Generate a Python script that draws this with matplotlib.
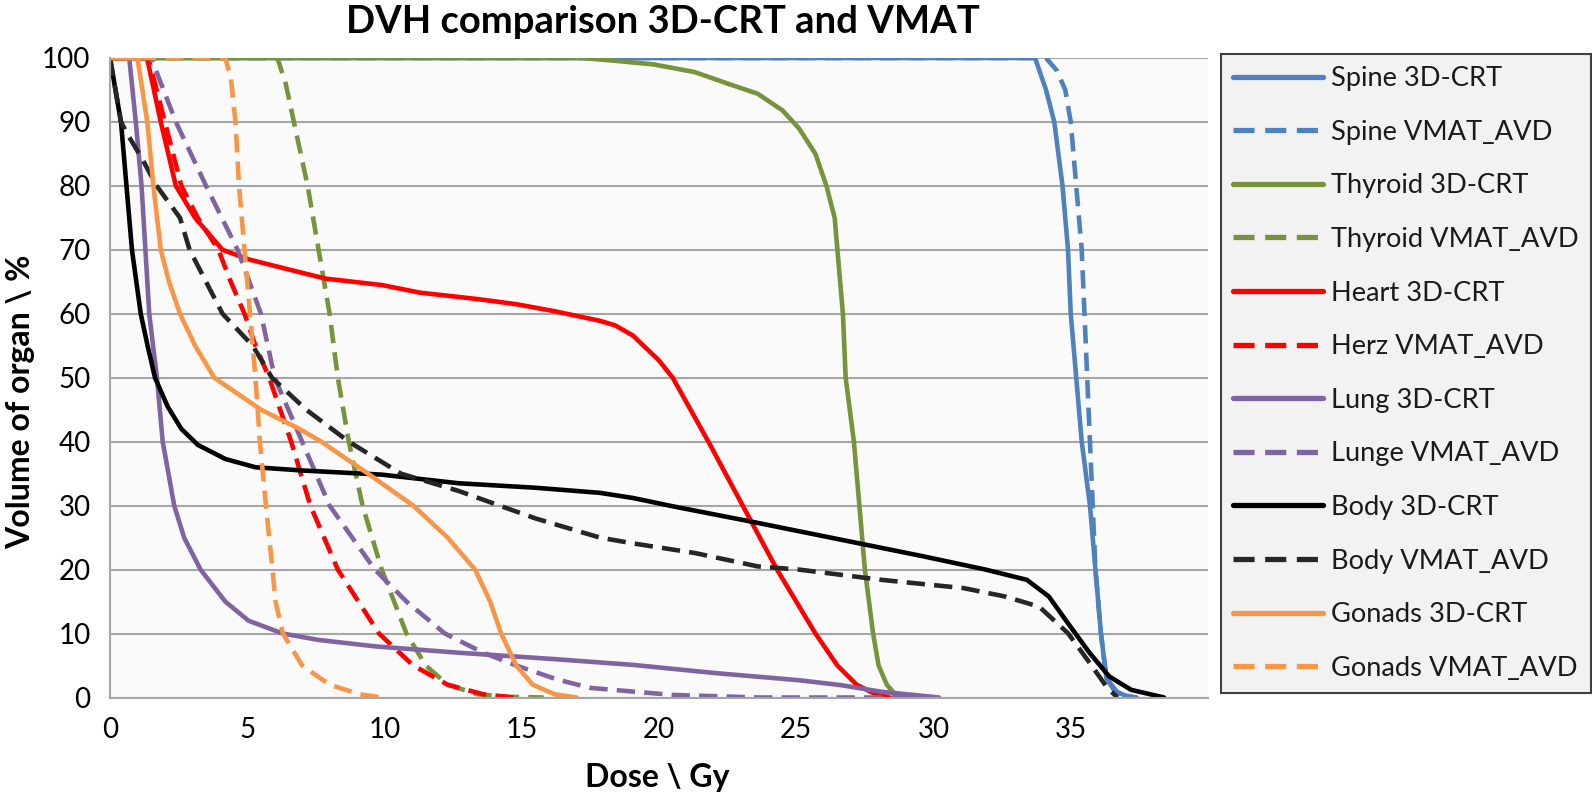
import matplotlib
matplotlib.use("Agg")
import matplotlib.pyplot as plt

plt.rcParams['font.family'] = ['Lato', 'DejaVu Sans']

title = "DVH comparison 3D-CRT and VMAT"
xlabel = "Dose \\ Gy"
ylabel = "Volume of organ \\ %"
xticks = [0, 5, 10, 15, 20, 25, 30, 35]
yticks = [0, 10, 20, 30, 40, 50, 60, 70, 80, 90, 100]

# ---- data (dose in Gy, volume in %) ----
spine_crt_dose = [0, 33.7, 34.1, 34.4, 34.7, 34.9, 35.0, 35.2, 35.4, 35.7, 35.9, 36.1, 36.3, 36.6, 37.0, 37.4]
spine_crt_vol = [100, 100, 95, 90, 80, 70, 60, 50, 40, 30, 20, 10, 3, 1, 0.3, 0]

spine_vmat_dose = [0, 34.1, 34.5, 34.8, 35.0, 35.2, 35.4, 35.5, 35.6, 35.7, 35.8, 35.9, 36.1, 36.3, 36.7, 37.2]
spine_vmat_vol = [100, 100, 98, 95, 90, 80, 70, 60, 50, 40, 30, 20, 10, 3, 0.8, 0]

thyroid_crt_dose = [0, 17.2, 18.3, 19.8, 21.3, 22.5, 23.6, 24.5, 25.1, 25.7, 26.1, 26.4, 26.5, 26.7, 26.8, 27.1, 27.3, 27.5, 27.8, 28.0, 28.3, 28.7]
thyroid_crt_vol = [100, 100, 99.6, 99, 97.8, 96, 94.4, 91.8, 89, 85, 80, 75, 70, 60, 50, 40, 30, 20, 10, 5, 2, 0]

thyroid_vmat_dose = [0, 6.1, 6.4, 6.7, 7.2, 7.6, 8.0, 8.3, 8.7, 9.2, 9.9, 10.8, 11.5, 12.3, 13.4, 14.5, 15.8]
thyroid_vmat_vol = [100, 100, 96, 90, 80, 70, 60, 50, 40, 30, 20, 10, 5, 2, 0.5, 0.1, 0]

heart_crt_dose = [0, 1.35, 1.85, 2.4, 3.1, 4.1, 5.06, 6.45, 7.85, 9.9, 11.3, 13.4, 14.8, 16.2, 17.85, 18.4, 19.05, 20.0, 20.5, 21.8, 23.05, 24.3, 25.7, 26.5, 27.2, 27.8, 28.4]
heart_crt_vol = [100, 100, 90, 80, 75, 70, 68.5, 67, 65.5, 64.5, 63.3, 62.3, 61.5, 60.4, 58.9, 58.2, 56.6, 52.7, 50, 40, 30, 20, 10, 5, 2, 0.7, 0]

heart_vmat_dose = [0, 1.4, 2.0, 2.6, 3.2, 3.95, 4.4, 4.9, 5.3, 5.8, 6.6, 7.3, 8.3, 9.8, 11.05, 12.3, 13.6, 14.7]
heart_vmat_vol = [100, 100, 90, 80, 75, 70, 65, 60, 55, 50, 40, 30, 20, 10, 5, 2, 0.5, 0]

lung_crt_dose = [0, 0.7, 0.94, 1.15, 1.29, 1.43, 1.71, 1.92, 2.34, 2.7, 3.3, 4.2, 5.05, 6.3, 7.6, 9.65, 12.7, 16.2, 19.05, 22.1, 25.1, 26.6, 28.1, 30.2]
lung_crt_vol = [100, 100, 90, 80, 70, 60, 50, 40, 30, 25, 20, 15, 12, 10, 9, 8, 7, 6, 5.1, 3.8, 2.7, 1.95, 0.9, 0]

lung_vmat_dose = [0, 1.5, 2.4, 3.5, 4.65, 5.5, 6.0, 7.0, 8.0, 9.65, 10.8, 12.2, 13.6, 14.8, 16.3, 17.5, 20.5, 23.6, 29.5]
lung_vmat_vol = [100, 100, 90, 80, 70, 60, 50, 40, 30, 20, 15, 10, 7, 5, 2.8, 1.5, 0.4, 0, 0]

body_crt_dose = [0, 0.4, 0.6, 0.8, 1.12, 1.37, 1.64, 2.1, 2.6, 3.2, 4.2, 5.3, 7.0, 9.9, 12.7, 15.5, 17.85, 19.05, 20.5, 23.6, 26.6, 29.6, 31.9, 33.4, 34.2, 34.9, 35.7, 36.4, 37.2, 38.4]
body_crt_vol = [100, 90, 80, 70, 60, 55, 50, 45.5, 42, 39.5, 37.3, 36, 35.5, 34.85, 33.5, 32.8, 32.0, 31.2, 29.9, 27.3, 24.7, 22.1, 20.0, 18.4, 15.8, 11.6, 6.9, 3.3, 1.2, 0]

body_vmat_dose = [0, 0.4, 0.65, 1.2, 1.7, 2.55, 2.9, 4.1, 5.2, 5.9, 7.15, 8.7, 10.6, 12.7, 15.5, 17.85, 19.05, 21.3, 23.6, 25.1, 28.1, 31.1, 32.6, 33.85, 34.9, 35.7, 36.3, 36.7]
body_vmat_vol = [100, 90, 88, 84, 80, 75, 70, 60, 55, 50, 45, 40, 35, 32.3, 28, 25, 24.1, 22.6, 20.5, 20.0, 18.4, 17.1, 15.8, 14.2, 10.05, 5.35, 1.7, 0]

gonads_crt_dose = [0, 1.0, 1.36, 1.58, 1.85, 2.15, 2.55, 3.1, 3.8, 5.5, 6.9, 7.7, 9.4, 11.05, 12.3, 13.3, 13.85, 14.25, 14.8, 15.4, 16.2, 17.0]
gonads_crt_vol = [100, 100, 90, 80, 70, 65, 60, 55, 50, 45, 42, 40, 35, 30, 25, 20, 15, 10, 5, 2, 0.5, 0]

gonads_vmat_dose = [0, 4.2, 4.4, 4.57, 4.7, 4.9, 5.1, 5.3, 5.46, 5.68, 5.92, 6.03, 6.3, 7.0, 8.0, 9.1, 9.9]
gonads_vmat_vol = [100, 100, 97, 90, 80, 70, 60, 50, 40, 30, 20, 15, 10, 5, 2, 0.5, 0]

series_labels = ["Spine 3D-CRT", "Spine VMAT_AVD", "Thyroid 3D-CRT", "Thyroid VMAT_AVD",
                 "Heart 3D-CRT", "Herz VMAT_AVD", "Lung 3D-CRT", "Lunge VMAT_AVD",
                 "Body 3D-CRT", "Body VMAT_AVD", "Gonads 3D-CRT", "Gonads VMAT_AVD"]
series_data = [(spine_crt_dose, spine_crt_vol), (spine_vmat_dose, spine_vmat_vol),
               (thyroid_crt_dose, thyroid_crt_vol), (thyroid_vmat_dose, thyroid_vmat_vol),
               (heart_crt_dose, heart_crt_vol), (heart_vmat_dose, heart_vmat_vol),
               (lung_crt_dose, lung_crt_vol), (lung_vmat_dose, lung_vmat_vol),
               (body_crt_dose, body_crt_vol), (body_vmat_dose, body_vmat_vol),
               (gonads_crt_dose, gonads_crt_vol), (gonads_vmat_dose, gonads_vmat_vol)]
colors = ["#4F81BD", "#4F81BD", "#77933C", "#77933C", "#FF0000", "#FF0000",
          "#8064A2", "#8064A2", "#000000", "#262626", "#F79646", "#F79646"]
dashed = [False, True] * 6

W, H = 1592, 794
fig = plt.figure(figsize=(W / 100, H / 100), dpi=100)
ax = fig.add_axes([110 / W, 1 - 697.5 / H, (1208 - 110) / W, (697.5 - 58) / H])
ax.set_facecolor("#FAFAFA")

handles = []
for (d, v), c, ds, lab in zip(series_data, colors, dashed, series_labels):
    if ds:
        ln, = ax.plot(d, v, color=c, lw=3.3, linestyle=(0, (4, 2)), label=lab,
                      solid_capstyle='butt', dash_capstyle='butt')
    else:
        ln, = ax.plot(d, v, color=c, lw=3.3, label=lab, solid_capstyle='round')
    handles.append(ln)

ax.set_xlim(0, 40)
ax.set_ylim(0, 100)
ax.set_xticks(xticks)
ax.set_yticks(yticks)
ax.tick_params(axis='both', length=0, labelsize=20, colors='black')
ax.tick_params(axis='x', pad=14)
ax.tick_params(axis='y', pad=14)
ax.grid(axis='y', color='#A6A6A6', lw=1.5)
ax.set_axisbelow(True)
for s in ['top', 'right']:
    ax.spines[s].set_visible(False)
for s in ['left', 'bottom']:
    ax.spines[s].set_color('#A6A6A6')
    ax.spines[s].set_linewidth(1.5)

fig.text(663 / W, 1 - 33 / H, title, ha='center', va='baseline', fontsize=27.5, fontweight='bold')
fig.text(657 / W, 1 - 777 / H, xlabel, ha='center', va='center', fontsize=23, fontweight='bold')
fig.text(21 / W, 1 - 402 / H, ylabel, ha='center', va='center', rotation=90, fontsize=23, fontweight='bold')

leg = fig.legend(handles=handles, loc='upper left', bbox_to_anchor=(1221 / W, 1 - 54 / H),
                 bbox_transform=fig.transFigure, borderaxespad=0, fontsize=19.6,
                 handlelength=3.3, handletextpad=0.28, labelspacing=1.05, borderpad=0.45,
                 frameon=True, fancybox=False)
leg.get_frame().set_facecolor('#F2F2F2')
leg.get_frame().set_edgecolor('#404040')
leg.get_frame().set_linewidth(1.5)
leg.get_frame().set_alpha(1)
for t in leg.get_texts():
    t.set_color('#1a1a1a')
for lh in leg.get_lines():
    lh.set_linewidth(3.8)

fig.savefig("out.png", dpi=100)
